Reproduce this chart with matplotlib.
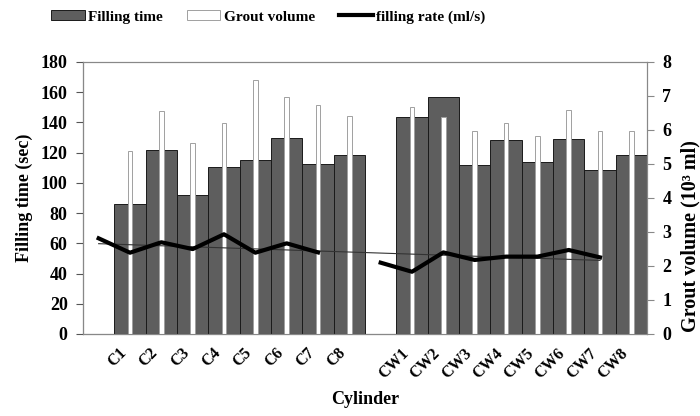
import numpy as np
import matplotlib
matplotlib.use("Agg")
import matplotlib.pyplot as plt
from matplotlib.patches import Patch
from matplotlib.lines import Line2D

plt.rcParams['font.family'] = ['Liberation Serif', 'DejaVu Serif']
plt.rcParams['font.weight'] = 'bold'
plt.rcParams['axes.labelweight'] = 'bold'

# Données (emplacements 0 et 9 vides, comme dans la figure d'origine)
labels = ['', 'C1', 'C2', 'C3', 'C4', 'C5', 'C6', 'C7', 'C8',
          '', 'CW1', 'CW2', 'CW3', 'CW4', 'CW5', 'CW6', 'CW7', 'CW8']
nan = np.nan
filling_time = [nan, 86, 122, 92, 110.5, 115, 130, 112.5, 118.5,
                nan, 143.5, 157, 112, 128.5, 114, 129, 108.5, 118.5]
grout_volume = [nan, 5.38, 6.56, 5.63, 6.2, 7.47, 6.97, 6.73, 6.42,
                nan, 6.67, 6.38, 5.96, 6.2, 5.82, 6.58, 5.96, 5.96]
# débit (ml/s), décalé d'un emplacement vers la gauche dans la figure
filling_rate = [63.3, 53.8, 60.7, 56.2, 66, 53.8, 60, 54,
                nan, 47.2, 41.2, 54, 49, 51.2, 51.2, 55.6, 50.7, nan]

x = np.arange(len(labels))
rate = np.array(filling_rate, dtype=float)
ok = ~np.isnan(rate)
coef = np.polyfit(x[ok], rate[ok], 1)   # tendance linéaire
xt = np.array([x[ok][0], x[ok][-1]])

fig = plt.figure(figsize=(7, 4.16), dpi=100)
ax = fig.add_axes([83 / 700, 1 - 334 / 416, (647 - 83) / 700, (334 - 62) / 416])

ax.bar(x, filling_time, width=1, color='#5e5e5e', edgecolor='#1a1a1a', linewidth=0.7)
ax.set_xlim(-0.5, len(labels) - 0.5)
ax.set_ylim(0, 180)
ax.set_yticks(np.arange(0, 181, 20))
ax.set_xticks(x)
ax.set_xticklabels(labels, rotation=45, ha='right', fontsize=11.5)
ax.tick_params(axis='x', length=0, pad=8)
ax.tick_params(axis='y', direction='out', length=5, labelsize=13, color='#555555', pad=6)
ax.set_ylabel('Filling time (sec)', fontsize=13, labelpad=6)
ax.set_xlabel('Cylinder', fontsize=13, labelpad=7)

ax2 = ax.twinx()
ax2.bar(x, grout_volume, width=0.15, color='white', edgecolor='#a0a0a0', linewidth=0.7)
ax2.set_ylim(0, 8)
ax2.set_yticks(np.arange(0, 9, 1))
ax2.tick_params(axis='y', direction='out', length=5, labelsize=13, color='#888888', pad=6)
ax2.set_ylabel('Grout volume (10³ ml)', fontsize=14.5)
ax2.yaxis.set_label_coords(1.06, 0.36)

ax3 = ax.twinx()
ax3.set_ylim(0, 180)
ax3.plot(xt, np.polyval(coef, xt), color='#333333', linewidth=0.8)
ax3.plot(x, rate, color='black', linewidth=3)
ax3.axis('off')

for a in (ax, ax2):
    for s in a.spines.values():
        s.set_color('#888888')
        s.set_linewidth(0.8)
ax.spines['left'].set_color('#333333')
ax.spines['bottom'].set_color('#333333')

handles = [Patch(facecolor='#5e5e5e', edgecolor='#1a1a1a', linewidth=0.7),
           Patch(facecolor='white', edgecolor='#a0a0a0', linewidth=0.7),
           Line2D([0], [0], color='black', linewidth=3)]
fig.legend(handles, ['Filling time', 'Grout volume', 'filling rate (ml/s)'],
           loc='center', bbox_to_anchor=(268 / 700, 1 - 17 / 416), ncol=3,
           frameon=False, fontsize=11, handlelength=2.2, handleheight=0.6,
           handletextpad=0.2, columnspacing=1.6)

fig.savefig('out.png', dpi=100)
